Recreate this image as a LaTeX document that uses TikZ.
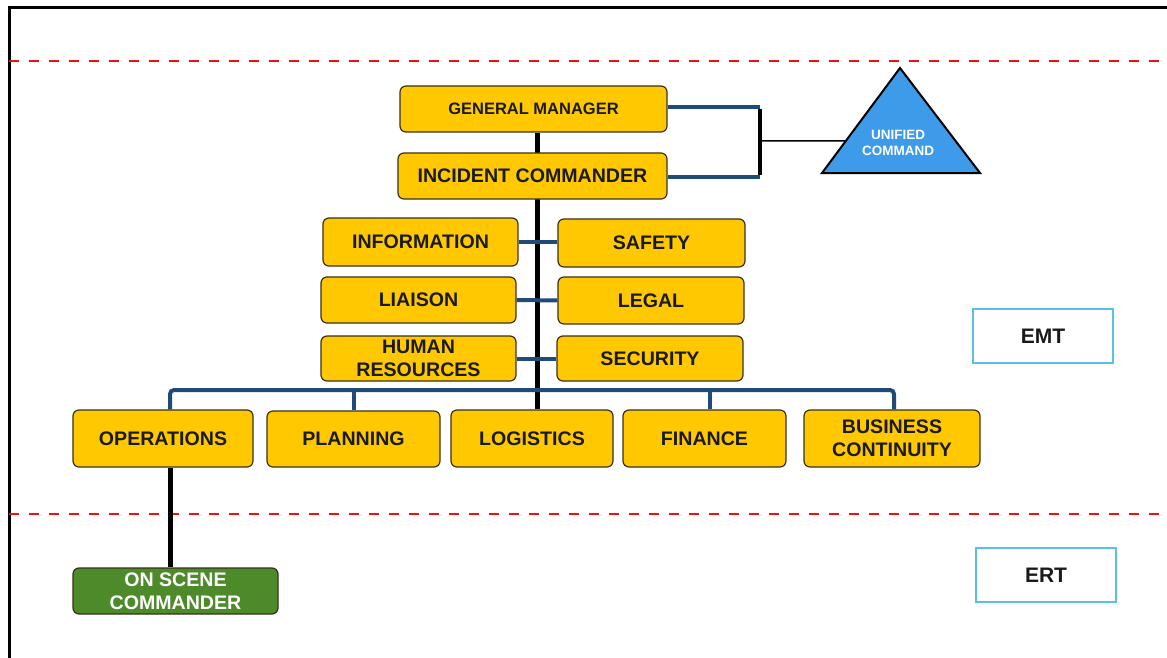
\documentclass[tikz,border=0pt]{standalone}
\usepackage{fontspec}
\setmainfont{Liberation Sans}
\usetikzlibrary{calc,backgrounds}
\definecolor{boxfill}{HTML}{FFC800}
\definecolor{boxline}{HTML}{3A3018}
\definecolor{boxtext}{HTML}{1A1A1A}
\definecolor{navy}{HTML}{1F4A7A}
\definecolor{ucblue}{HTML}{3D9BEA}
\definecolor{oscgreen}{HTML}{4C8A2A}
\definecolor{teamline}{HTML}{5BC0E8}
\definecolor{dashred}{HTML}{F01010}

\begin{document}
\begin{tikzpicture}[x=1pt,y=-1pt,
  box/.style={draw=boxline,fill=boxfill,rounded corners=6pt,line width=1.2pt,
              inner sep=0pt,font=\fontsize{19.6}{23}\selectfont\bfseries,
              text=boxtext,align=center},
  oscbox/.style={box,fill=oscgreen,text=white},
  teambox/.style={draw=teamline,line width=1.5pt,fill=white,inner sep=0pt,
                  minimum width=140,minimum height=54,
                  font=\fontsize{21}{24}\selectfont\bfseries,text=boxtext},
  spine/.style={draw=black,line width=5pt},
  link/.style={draw=navy,line width=4pt},
  zone/.style={draw=dashred,line width=2.8pt,dash pattern=on 10pt off 10pt}
]
\useasboundingbox (0,0) rectangle (1167,658);

% command staff
\node[box,minimum width=267,minimum height=46,
      font=\fontsize{16.5}{19}\selectfont\bfseries] (gm) at (533.5,109) {GENERAL MANAGER};
\node[box,minimum width=269,minimum height=46] (ic) at (532.5,176) {INCIDENT COMMANDER};
\node[box,minimum width=195,minimum height=48] (info) at (420.5,242) {INFORMATION};
\node[box,minimum width=187,minimum height=48] (safety) at (651.5,243) {SAFETY};
\node[box,minimum width=195,minimum height=46] (liaison) at (418.5,300) {LIAISON};
\node[box,minimum width=186,minimum height=47] (legal) at (651,300.5) {LEGAL};
\node[box,minimum width=195,minimum height=45] (hr) at (418.5,358.5) {HUMAN\\RESOURCES};
\node[box,minimum width=186,minimum height=45] (security) at (650,358.5) {SECURITY};

% sections
\node[box,minimum width=180,minimum height=57] (ops) at (163,438.5) {OPERATIONS};
\node[box,minimum width=173,minimum height=56] (plan) at (353.5,439) {PLANNING};
\node[box,minimum width=162,minimum height=57] (logi) at (532,438.5) {LOGISTICS};
\node[box,minimum width=163,minimum height=57] (fin) at (704.5,438.5) {FINANCE};
\node[box,minimum width=176,minimum height=57] (bc) at (892,438.5) {BUSINESS\\CONTINUITY};
\node[oscbox,minimum width=205,minimum height=46] (osc) at (175.5,591) {ON SCENE\\COMMANDER};

% team labels
\node[teambox] (emt) at (1043,336) {EMT};
\node[teambox] (ert) at (1046,575) {ERT};

% unified command
\coordinate (ucapex) at (900,68);
\coordinate (ucleft) at (822,173);
\coordinate (ucright) at (980,173);
\draw[fill=ucblue,line width=2pt,line join=miter] (ucapex) -- (ucright) -- (ucleft) -- cycle;
\node[font=\fontsize{13.5}{16}\selectfont\bfseries,text=white,align=center] (uclabel)
  at (898,143) {UNIFIED\\COMMAND};

\coordinate (spine) at (537,0);
\coordinate (brtop) at (760,107);
\coordinate (brbot) at (760,177);
\coordinate (brmid) at (760,141);
\coordinate (bus) at (537,390);

\begin{scope}[on background layer]
  \draw[line width=3pt] (9,658) -- (9,8) -- (1167,8);
  \draw[zone] (9,61) -- (1167,61);
  \draw[zone] (9,514) -- (1167,514);
  \draw[spine] (gm.south -| spine) -- (logi.north -| spine);
  \draw[spine] ([xshift=-5.5pt]osc.north) -- ([xshift=7pt]ops.south);
  \draw[link] (gm.east |- brtop) -- (brtop);
  \draw[link] (ic.east |- brbot) -- (brbot);
  \draw[spine,line width=4pt] ([yshift=-2pt]brtop) -- ([yshift=2pt]brbot);
  \draw[line width=1.5pt] (brmid) -- ($(ucleft)!0.305!(ucapex)$);
  \draw[link] (info.east) -- (info.east -| safety.west);
  \draw[link] (liaison.east) -- (legal.west);
  \draw[link] (hr.east) -- (security.west);
  \draw[link,rounded corners=4pt] ([xshift=7pt]ops.north) |- (bus) -| ([xshift=2pt]bc.north);
  \draw[link] (plan.north) -- (plan.north |- bus);
  \draw[link] ([xshift=5.5pt]fin.north) -- ([xshift=5.5pt]fin.north |- bus);
\end{scope}
\end{tikzpicture}
\end{document}
